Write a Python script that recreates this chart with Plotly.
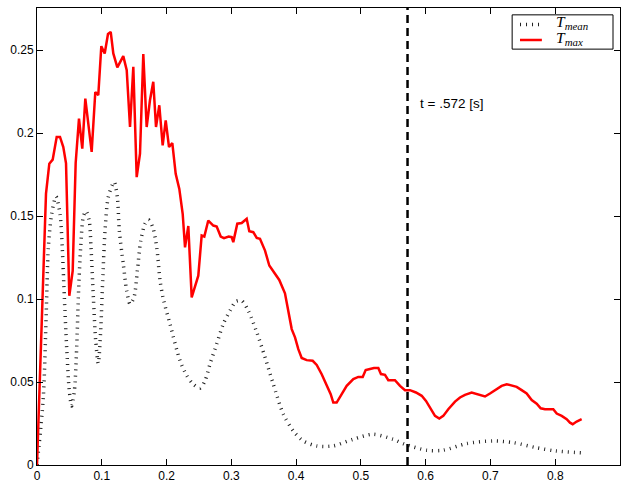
import plotly.graph_objects as go

# Maximum value over time (red curve)
t_max_x = [0.0, 0.0139, 0.019, 0.0242, 0.0304, 0.0355, 0.0406, 0.0448, 0.0499, 0.0551,
           0.0597, 0.0648, 0.0699, 0.0746, 0.0844, 0.09, 0.0946, 0.0993, 0.1045, 0.1096,
           0.1138, 0.1178, 0.124, 0.1281, 0.1332, 0.1385, 0.1436, 0.1487, 0.1539, 0.159,
           0.1641, 0.1693, 0.1744, 0.1795, 0.1837, 0.1888, 0.194, 0.1987, 0.2038, 0.2089,
           0.2141, 0.2197, 0.2249, 0.2285, 0.2336, 0.2388, 0.249, 0.2542, 0.2583, 0.2644,
           0.2722, 0.2774, 0.2836, 0.2887, 0.2959, 0.3006, 0.303, 0.3092, 0.316, 0.3237,
           0.3277, 0.3339, 0.3392, 0.3442, 0.352, 0.3586, 0.3674, 0.374, 0.3828, 0.3879,
           0.3932, 0.3983, 0.4034, 0.4086, 0.4163, 0.4256, 0.4318, 0.4395, 0.4472, 0.4534,
           0.4574, 0.4626, 0.4704, 0.4781, 0.4883, 0.496, 0.5028, 0.5074, 0.514, 0.5202,
           0.5269, 0.531, 0.5372, 0.5423, 0.5526, 0.5604, 0.5681, 0.5758, 0.585, 0.5939,
           0.6005, 0.6067, 0.6144, 0.621, 0.6272, 0.6349, 0.6453, 0.653, 0.6607, 0.671,
           0.6761, 0.6839, 0.6916, 0.6993, 0.707, 0.7173, 0.7251, 0.7328, 0.7405, 0.7482,
           0.7559, 0.7637, 0.7714, 0.7776, 0.7842, 0.797, 0.8023, 0.81, 0.8177, 0.8228,
           0.827, 0.8331, 0.8408]
t_max_y = [0.0, 0.1635, 0.1816, 0.184, 0.1977, 0.1977, 0.1916, 0.1818, 0.102, 0.117,
           0.182, 0.2087, 0.1906, 0.2208, 0.1887, 0.2248, 0.2228, 0.2524, 0.248, 0.2597,
           0.261, 0.248, 0.2396, 0.243, 0.2464, 0.2379, 0.2037, 0.24, 0.1735, 0.1876,
           0.2476, 0.2037, 0.2198, 0.2309, 0.2037, 0.2168, 0.1926, 0.2077, 0.1916, 0.194,
           0.1755, 0.1664, 0.1514, 0.1312, 0.144, 0.101, 0.1141, 0.1383, 0.1377, 0.1473,
           0.1443, 0.1437, 0.1377, 0.1367, 0.1377, 0.1373, 0.1343, 0.1454, 0.1458, 0.1484,
           0.1409, 0.1403, 0.1369, 0.1363, 0.1292, 0.1202, 0.1152, 0.1115, 0.1035, 0.093,
           0.0819, 0.0769, 0.0698, 0.0645, 0.0632, 0.0628, 0.0603, 0.0547, 0.0477, 0.0427,
           0.0376, 0.0376, 0.0427, 0.0477, 0.0518, 0.0531, 0.0531, 0.0572, 0.0578, 0.0584,
           0.0584, 0.0548, 0.0543, 0.0511, 0.0511, 0.0477, 0.0451, 0.0451, 0.0437, 0.0417,
           0.0386, 0.0346, 0.0296, 0.028, 0.0296, 0.0336, 0.0382, 0.0407, 0.0423, 0.0437,
           0.0431, 0.0423, 0.0413, 0.0431, 0.0451, 0.0477, 0.0487, 0.0477, 0.0471, 0.0451,
           0.0431, 0.0391, 0.037, 0.0342, 0.0336, 0.0336, 0.031, 0.0296, 0.0276, 0.0255,
           0.0246, 0.0262, 0.0276]

# Mean value over time (dotted curve)
t_mean_x = [0.0, 0.0097, 0.0142, 0.0175, 0.0227, 0.0293, 0.0355, 0.039, 0.0422, 0.0458,
            0.0499, 0.0535, 0.0577, 0.0613, 0.0638, 0.0674, 0.0715, 0.0756, 0.0807, 0.0834,
            0.087, 0.0906, 0.0946, 0.0983, 0.1014, 0.105, 0.1101, 0.119, 0.124, 0.1271,
            0.1332, 0.1385, 0.1436, 0.1497, 0.1549, 0.1601, 0.1667, 0.172, 0.1787, 0.1849,
            0.19, 0.195, 0.2053, 0.2207, 0.231, 0.2413, 0.2516, 0.2594, 0.267, 0.2774,
            0.2876, 0.298, 0.3072, 0.316, 0.3262, 0.3392, 0.352, 0.3648, 0.3803, 0.3957,
            0.4111, 0.4318, 0.457, 0.4878, 0.5187, 0.5496, 0.568, 0.6015, 0.6268, 0.6633,
            0.704, 0.735, 0.77, 0.80, 0.843]
t_mean_y = [0.0, 0.0406, 0.091, 0.131, 0.1514, 0.1618, 0.1514, 0.131, 0.101, 0.0708,
            0.0447, 0.0356, 0.0447, 0.0708, 0.101, 0.131, 0.1496, 0.153, 0.147, 0.131,
            0.101, 0.075, 0.0612, 0.081, 0.111, 0.141, 0.1615, 0.1705, 0.1615, 0.141,
            0.1212, 0.105, 0.097, 0.101, 0.117, 0.135, 0.1453, 0.1478, 0.1433, 0.131,
            0.111, 0.1, 0.085, 0.063, 0.054, 0.0487, 0.0463, 0.0507, 0.0608, 0.0729,
            0.085, 0.093, 0.0986, 0.099, 0.093, 0.080, 0.065, 0.0487, 0.0306, 0.0205,
            0.0145, 0.0115, 0.0115, 0.0155, 0.0185, 0.0155, 0.0125, 0.0089, 0.0089, 0.0129,
            0.0145, 0.0135, 0.0105, 0.0085, 0.0073]

t_marker = 0.572
marker_label = "t = .572 [s]"

series_names = ["<i>T</i><sub><i>mean</i></sub>", "<i>T</i><sub><i>max</i></sub>"]

x_ticks = [0, 0.1, 0.2, 0.3, 0.4, 0.5, 0.6, 0.7, 0.8, 0.9]
y_ticks = [0, 0.05, 0.1, 0.15, 0.2, 0.25]

sans = "Liberation Sans, Arial, sans-serif"
serif = "Liberation Serif, Times New Roman, serif"

mean_line = dict(color="#222222", width=3.5, dash="1px,5px")
max_line = dict(color="#ff0000", width=2.5)

fig = go.Figure()
fig.add_trace(go.Scatter(
    x=t_mean_x, y=t_mean_y, mode="lines", name=series_names[0], showlegend=False,
    line=dict(shape="spline", smoothing=0.8, **mean_line),
))
fig.add_trace(go.Scatter(
    x=t_max_x, y=t_max_y, mode="lines", name=series_names[1], showlegend=False,
    line=max_line,
))

# time marker
fig.add_shape(type="line", xref="x", yref="paper", x0=t_marker, x1=t_marker, y0=0, y1=1,
              line=dict(color="black", width=2.5, dash="8px,5px"))
fig.add_annotation(x=t_marker + 0.016, y=0.218, xref="x", yref="y", text=marker_label,
                   showarrow=False, xanchor="left", yanchor="middle",
                   font=dict(family=sans, size=13.5, color="black"))

# compact boxed legend in the upper right corner (paper coordinates)
box = dict(x0=0.815, x1=0.988, y0=0.910, y1=0.985)
fig.add_shape(type="rect", xref="paper", yref="paper", **box,
              line=dict(color="black", width=1), fillcolor="white")
rows_y = [0.964, 0.930]
for name, style, ry in zip(series_names, [mean_line, max_line], rows_y):
    fig.add_shape(type="line", xref="paper", yref="paper",
                  x0=0.8285, x1=0.866, y0=ry, y1=ry, line=style)
    fig.add_annotation(x=0.886, y=ry + 0.004, xref="paper", yref="paper", text=name,
                       showarrow=False, xanchor="left", yanchor="middle",
                       font=dict(family=serif, size=15.5, color="black"))

axis_common = dict(
    showgrid=False, zeroline=False, showline=True, linecolor="black", linewidth=1,
    mirror="ticks", ticks="inside", ticklen=6, tickcolor="black", tickwidth=1,
    tickfont=dict(family=sans, size=12, color="black"), automargin=False,
)
fig.update_xaxes(range=[0, 0.9], tickvals=x_ticks,
                 ticktext=[("%g" % v) for v in x_ticks], **axis_common)
fig.update_yaxes(range=[0, 0.2754], tickvals=y_ticks,
                 ticktext=[("%g" % v) for v in y_ticks], **axis_common)

fig.update_layout(
    width=625, height=485,
    margin=dict(l=37, r=5, t=8, b=19.5),
    paper_bgcolor="white", plot_bgcolor="white",
    showlegend=False,
)

fig.write_html("out.html")
